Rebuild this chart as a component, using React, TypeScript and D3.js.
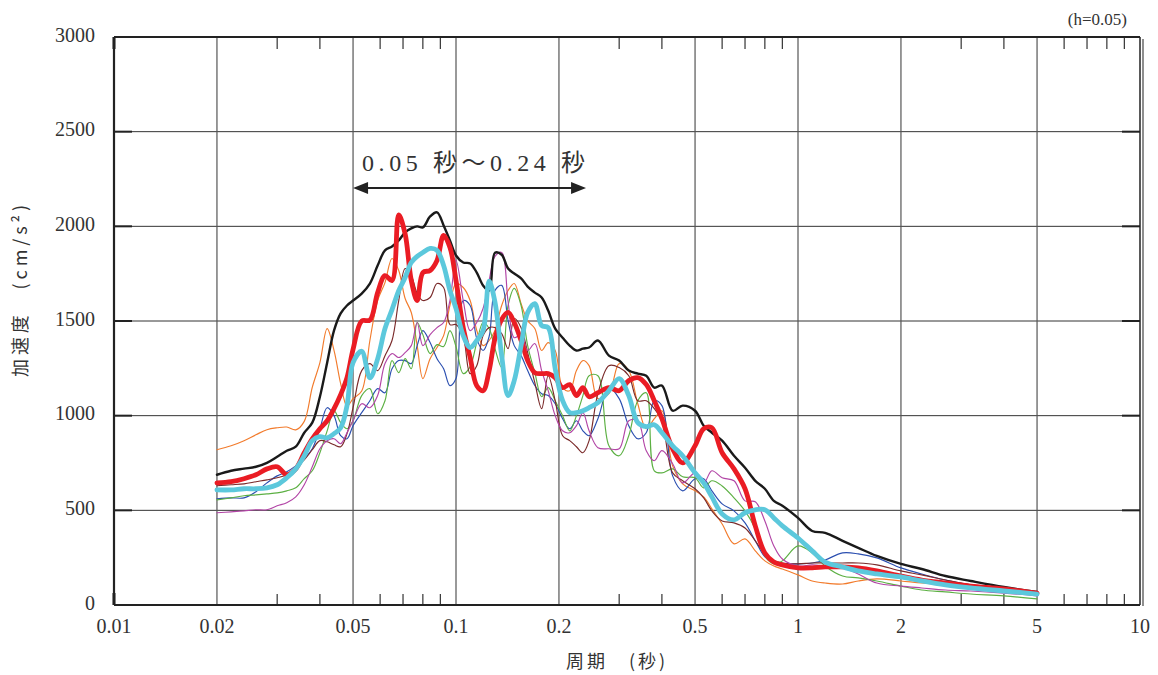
import React from 'react';
import * as d3 from 'd3';

// Period grid (s)
const periods = [
  0.020, 0.022, 0.024, 0.026, 0.028, 0.030, 0.032, 0.034, 0.036, 0.038,
  0.040, 0.042, 0.044, 0.046, 0.048, 0.050, 0.053, 0.056, 0.059, 0.062,
  0.065, 0.068, 0.071, 0.074, 0.077, 0.080, 0.084, 0.088, 0.092, 0.096,
  0.100, 0.105, 0.110, 0.115, 0.120, 0.125, 0.130, 0.136, 0.142, 0.148,
  0.155, 0.162, 0.170, 0.178, 0.186, 0.195, 0.205, 0.215, 0.225, 0.235,
  0.245, 0.26, 0.28, 0.30, 0.32, 0.34, 0.36, 0.38, 0.40, 0.43,
  0.46, 0.50, 0.53, 0.56, 0.60, 0.65, 0.70, 0.75, 0.80, 0.85,
  0.90, 1.0, 1.1, 1.2, 1.35, 1.5, 1.7, 2.0, 2.3, 2.7,
  3.2, 4.0, 5.0,
];

const blackSeries = [
  688, 709, 720, 730, 751, 783, 815, 836, 910, 963,
  1100, 1280, 1450, 1540, 1582, 1608, 1645, 1698, 1793, 1873,
  1894, 1926, 1968, 1989, 2000, 1994, 2052, 2074, 2005, 1926,
  1846, 1809, 1804, 1756, 1688, 1661, 1860, 1850, 1777, 1751,
  1725, 1682, 1650, 1624, 1555, 1460, 1412, 1370, 1344, 1354,
  1360, 1397, 1317, 1291, 1238, 1222, 1211, 1148, 1159, 1026,
  1053, 1026, 947, 910, 868, 788, 725, 656, 614, 550,
  524, 460, 391, 381, 339, 302, 259, 217, 190, 153,
  127, 95, 69,
];

const redSeries = [
  645, 651, 667, 688, 719, 730, 688, 719, 804, 878,
  931, 973, 1037, 1111, 1201, 1350, 1500, 1505, 1650, 1740,
  1714, 2060, 1960, 1714, 1608, 1756, 1767, 1820, 1952, 1889,
  1714, 1465, 1307, 1158, 1132, 1238, 1407, 1508, 1545, 1492,
  1397, 1291, 1227, 1222, 1222, 1201, 1148, 1164, 1106, 1148,
  1100, 1121, 1148, 1132, 1185, 1201, 1164, 1079, 984, 825,
  751, 841, 931, 936, 804, 719, 614, 418, 275, 227,
  212, 196, 196, 201, 201, 196, 180, 153, 132, 116,
  100, 85, 63,
];

const cyanSeries = [
  608, 608, 614, 614, 619, 635, 672, 719, 788, 868,
  889, 883, 905, 936, 1053, 1280, 1340, 1200, 1300, 1460,
  1560, 1660, 1730, 1809, 1841, 1862, 1883, 1873, 1793, 1661,
  1566, 1423, 1360, 1397, 1449, 1710, 1600, 1317, 1106, 1185,
  1370, 1545, 1592, 1476, 1465, 1248, 1079, 1016, 1016, 1026,
  1042, 1069, 1132, 1196, 1106, 963, 942, 952, 910, 841,
  788, 698, 645, 571, 481, 450, 487, 503, 503, 460,
  418, 354, 286, 227, 201, 180, 164, 148, 127, 106,
  90, 74, 58,
];

const orangeSeries = [
  820, 841, 868, 899, 926, 936, 940, 925, 970, 1150,
  1280, 1460, 1344, 1169, 1050, 1090, 1130, 1397, 1608, 1703,
  1830, 1767, 1619, 1545, 1370, 1196, 1301, 1360, 1423, 1582,
  1698, 1677, 1608, 1450, 1370, 1397, 1450, 1582, 1661, 1698,
  1592, 1502, 1460, 1344, 1386, 1344, 1148, 1132, 1238, 1291,
  1264, 1090, 1116, 1275, 1238, 1063, 931, 984, 1026, 735,
  640, 603, 571, 508, 428, 323, 349, 286, 233, 206,
  190, 159, 127, 116, 111, 127, 138, 127, 116, 106,
  95, 85, 63,
];

const blueSeries = [
  561, 566, 566, 598, 645, 682, 704, 735, 772, 825,
  931, 1042, 1000, 894, 878, 947, 1016, 1079, 1143, 1121,
  1248, 1291, 1291, 1275, 1370, 1449, 1386, 1301, 1248, 1159,
  1196, 1608, 1582, 1407, 1344, 1418, 1661, 1688, 1502, 1370,
  1317, 1238, 1159, 1116, 1106, 1063, 984, 931, 973, 920,
  894, 984, 1148, 1090, 947, 878, 910, 1079, 1053, 682,
  603, 667, 667, 603, 534, 497, 434, 339, 254, 222,
  217, 217, 222, 238, 275, 270, 249, 196, 164, 132,
  106, 85, 63,
];

const greenSeries = [
  555, 566, 577, 582, 587, 592, 603, 619, 667, 709,
  804, 920, 1026, 963, 931, 973, 1106, 1143, 1010, 1079,
  1291, 1227, 1301, 1248, 1492, 1428, 1328, 1375, 1365, 1449,
  1365, 1222, 1259, 1386, 1492, 1460, 1354, 1254, 1582, 1672,
  1582, 1370, 1227, 1100, 1148, 1079, 1000, 920, 1000, 1106,
  1211, 1211, 841, 788, 894, 1079, 1121, 709, 698, 719,
  677, 672, 619, 656, 629, 566, 497, 402, 259, 217,
  233, 312, 275, 206, 153, 143, 127, 100, 79, 69,
  58, 48, 32,
];

const brownSeries = [
  630, 635, 640, 651, 661, 672, 688, 730, 767, 820,
  868, 862, 846, 836, 905, 1042, 1238, 1275, 1238, 1317,
  1397, 1608, 1777, 1740, 1645, 1608, 1624, 1698, 1677, 1481,
  1481, 1418, 1222, 1264, 1423, 1465, 1465, 1433, 1354, 1513,
  1465, 1333, 1174, 1037, 1211, 1079, 894, 868, 836, 804,
  868, 1116, 1264, 1254, 1211, 1079, 1079, 1037, 973, 698,
  656, 614, 566, 497, 444, 434, 407, 339, 270, 233,
  222, 217, 222, 222, 222, 222, 212, 180, 159, 132,
  106, 85, 58,
];

const magentaSeries = [
  487, 492, 497, 503, 503, 524, 540, 571, 635, 730,
  825, 868, 878, 852, 910, 973, 1063, 1042, 1106, 1275,
  1328, 1307, 1333, 1370, 1492, 1370, 1428, 1465, 1492, 1608,
  1820, 1608, 1449, 1492, 1566, 1714, 1841, 1862, 1603, 1412,
  1428, 1344, 1381, 1238, 1132, 1000, 920, 910, 947, 1016,
  920, 831, 825, 825, 973, 973, 815, 762, 815, 746,
  645, 698, 645, 709, 672, 656, 550, 545, 444, 312,
  243, 206, 212, 206, 196, 164, 116, 100, 90, 79,
  74, 63, 48,
];

const yTicks = [0, 500, 1000, 1500, 2000, 2500, 3000];
const xTicks = [0.01, 0.02, 0.05, 0.1, 0.2, 0.5, 1, 2, 5, 10];
const xTickLabels = ['0.01', '0.02', '0.05', '0.1', '0.2', '0.5', '1', '2', '5', '10'];
const xMinor = [0.03, 0.04, 0.06, 0.07, 0.08, 0.09, 0.3, 0.4, 0.6, 0.7, 0.8, 0.9, 3, 4, 6, 7, 8, 9];
const rangeStart = 0.05;
const rangeEnd = 0.24;

const seriesList = [
  { key: 'orange', values: orangeSeries, color: '#f27b2c', width: 1.15 },
  { key: 'blue', values: blueSeries, color: '#2b4fb0', width: 1.15 },
  { key: 'green', values: greenSeries, color: '#5cb043', width: 1.15 },
  { key: 'brown', values: brownSeries, color: '#7a2a2a', width: 1.15 },
  { key: 'magenta', values: magentaSeries, color: '#b245a6', width: 1.15 },
  { key: 'black', values: blackSeries, color: '#1a1a1a', width: 2.4 },
  { key: 'red', values: redSeries, color: '#ea1c24', width: 4.8 },
  { key: 'cyan', values: cyanSeries, color: '#5cc8dc', width: 4.8 },
];

const SERIF = '"Liberation Serif", "DejaVu Serif", serif';
const MIX = '"Liberation Serif", "Noto Sans CJK JP", serif';
const CJK = '"Noto Sans CJK JP", "Noto Sans", sans-serif';

export default function App() {
  const L = 114, R = 1140, T = 37, B = 605;
  const x = d3.scaleLog().domain([0.01, 10]).range([L, R]);
  const y = d3.scaleLinear().domain([0, 3000]).range([B, T]);
  const line = d3
    .line<number>()
    .x((_, i) => x(periods[i]))
    .y((d) => y(d))
    .curve(d3.curveCatmullRom.alpha(0.5));

  const ay = 188;
  const ax1 = x(rangeStart);
  const ax2 = x(rangeEnd);

  return (
    <svg
      width={1158}
      height={675}
      style={{ position: 'absolute', left: 0, top: 0, background: '#fff' }}
    >
      <rect x={0} y={0} width={1158} height={675} fill="#fff" />
      {/* horizontal grid */}
      {yTicks.slice(1, -1).map((t) => (
        <line key={'hg' + t} x1={L} x2={R} y1={y(t)} y2={y(t)} stroke="#333" strokeWidth={1} />
      ))}
      {/* vertical grid */}
      {xTicks.slice(1, -1).map((t) => (
        <line key={'vg' + t} x1={x(t)} x2={x(t)} y1={T} y2={B} stroke="#555" strokeWidth={1.2} />
      ))}
      {/* minor ticks */}
      {xMinor.map((t) => (
        <g key={'mt' + t}>
          <line x1={x(t)} x2={x(t)} y1={T} y2={T + 12} stroke="#333" strokeWidth={1.2} />
          <line x1={x(t)} x2={x(t)} y1={B} y2={B - 11} stroke="#333" strokeWidth={1.2} />
        </g>
      ))}
      {/* y major ticks */}
      {yTicks.map((t) => (
        <g key={'yt' + t}>
          <line x1={L} x2={L + 18} y1={y(t)} y2={y(t)} stroke="#222" strokeWidth={2} />
          <line x1={R - 18} x2={R} y1={y(t)} y2={y(t)} stroke="#222" strokeWidth={2} />
        </g>
      ))}
      {/* series */}
      {seriesList.map((s) => (
        <path
          key={s.key}
          d={line(s.values) || ''}
          fill="none"
          stroke={s.color}
          strokeWidth={s.width}
          strokeLinejoin="round"
          strokeLinecap="round"
        />
      ))}
      {/* frame */}
      <line x1={L} x2={R} y1={T} y2={T} stroke="#222" strokeWidth={2} />
      <line x1={L} x2={R} y1={B} y2={B} stroke="#222" strokeWidth={2.2} />
      <line x1={L} x2={L} y1={T} y2={B} stroke="#222" strokeWidth={2.2} />
      <line x1={R} x2={R} y1={T} y2={B} stroke="#222" strokeWidth={1.5} />
      <line x1={R + 3} x2={R + 3} y1={T + 2} y2={B + 1} stroke="#444" strokeWidth={1.2} />
      <line x1={L} x2={L} y1={T} y2={T + 12} stroke="#222" strokeWidth={3} />
      <line x1={L} x2={L} y1={B} y2={B - 12} stroke="#222" strokeWidth={3} />

      {/* y tick labels */}
      {yTicks.map((t) => (
        <text
          key={'yl' + t}
          x={95}
          y={y(t)}
          textAnchor="end"
          dominantBaseline="middle"
          fontFamily={SERIF}
          fontSize={20}
          fill="#333"
        >
          {t}
        </text>
      ))}
      {/* x tick labels */}
      {xTicks.map((t, i) => (
        <text
          key={'xl' + t}
          x={x(t)}
          y={633}
          textAnchor="middle"
          fontFamily={SERIF}
          fontSize={20}
          fill="#333"
        >
          {xTickLabels[i]}
        </text>
      ))}

      {/* axis titles */}
      <text
        transform="translate(27,291) rotate(-90)"
        textAnchor="middle"
        fontFamily={CJK}
        fontSize={18}
        fill="#333"
        textLength={172}
        lengthAdjust="spacing"
      >
        加速度　(cm/s²)
      </text>
      <text
        x={617}
        y={668}
        textAnchor="middle"
        fontFamily={CJK}
        fontSize={18}
        fill="#333"
        letterSpacing={3}
      >
        周期　(秒)
      </text>
      <text x={1127} y={25} textAnchor="end" fontFamily={SERIF} fontSize={17} fill="#333">
        (h=0.05)
      </text>

      {/* range annotation */}
      <text
        x={362}
        y={171}
        fontFamily={MIX}
        fontSize={24}
        fill="#333"
        textLength={223}
        lengthAdjust="spacing"
      >
        0.05 秒～0.24 秒
      </text>
      <line x1={ax1 + 12} x2={ax2 - 12} y1={ay} y2={ay} stroke="#222" strokeWidth={2} />
      <path d={`M${ax1},${ay} L${ax1 + 15},${ay - 6} L${ax1 + 15},${ay + 6} Z`} fill="#222" />
      <path d={`M${ax2},${ay} L${ax2 - 15},${ay - 6} L${ax2 - 15},${ay + 6} Z`} fill="#222" />
    </svg>
  );
}
